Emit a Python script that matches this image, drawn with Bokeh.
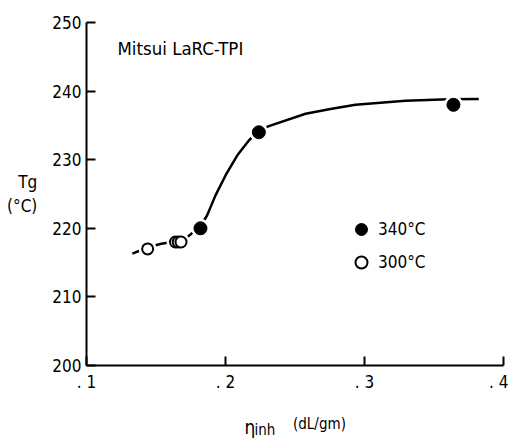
from bokeh.plotting import figure
from bokeh.models import (Label, Legend, LegendItem, FixedTicker, Range1d,
                          LinearAxis, Title)
from bokeh.embed import file_html
from bokeh.resources import INLINE

# Glass transition temperature vs. inherent viscosity, Mitsui LaRC-TPI
eta_340 = [0.182, 0.224, 0.364]
tg_340 = [220, 234, 238]

eta_300 = [0.144, 0.164, 0.166, 0.168]
tg_300 = [217, 218, 218, 218]

# hand-drawn trend curve, read along its path
curve_eta = [0.133, 0.144, 0.153, 0.164, 0.168, 0.1724, 0.1784, 0.182, 0.1868,
             0.1928, 0.200, 0.2084, 0.2168, 0.2245, 0.2312, 0.2576, 0.2755,
             0.2935, 0.3295, 0.3604, 0.3822]
curve_tg = [216.3, 217.2, 217.7, 218.1, 218.3, 218.7, 219.7, 220.3, 221.9,
            224.8, 227.7, 230.6, 232.8, 234.3, 234.9, 236.7, 237.4,
            238.0, 238.6, 238.8, 238.85]

x_ticks = [0.1, 0.2, 0.3, 0.4]
x_tick_labels = [". 1", ". 2", ". 3", ". 4"]
y_ticks = [200, 210, 220, 230, 240, 250]

FONT = "DejaVu Sans Condensed"

p = figure(width=508, height=440, output_backend="svg", toolbar_location=None,
           x_range=Range1d(0.1, 0.4), y_range=Range1d(200, 250),
           min_border_left=86, min_border_right=5, min_border_top=22,
           min_border_bottom=75)
p.outline_line_color = None
p.grid.grid_line_color = None
p.background_fill_color = "white"
p.border_fill_color = "white"

for ax in (p.xaxis[0], p.yaxis[0]):
    ax.axis_line_width = 2
    ax.axis_line_color = "black"
    ax.major_tick_line_width = 2
    ax.major_tick_in = 9
    ax.major_tick_out = 0
    ax.minor_tick_line_color = None
    ax.major_label_text_font = FONT
    ax.major_label_text_font_size = "17px"
    ax.major_label_text_color = "black"

p.xaxis.ticker = FixedTicker(ticks=x_ticks)
p.xaxis.major_label_overrides = {t: s for t, s in zip(x_ticks, x_tick_labels)}
p.xaxis.major_label_standoff = 6
p.yaxis.ticker = FixedTicker(ticks=y_ticks)
p.yaxis.major_label_standoff = 5

# y axis title, horizontal, two lines
p.yaxis.axis_label = "Tg\n(°C)"
p.yaxis.axis_label_orientation = "horizontal"
p.yaxis.axis_label_text_font = FONT
p.yaxis.axis_label_text_font_style = "normal"
p.yaxis.axis_label_text_font_size = "17px"
p.yaxis.axis_label_text_color = "black"
p.yaxis.axis_label_standoff = 12


def caption_axis(pos, text, size, standoff):
    """A bare axis below the plot that only carries one piece of the x title."""
    a = LinearAxis(ticker=FixedTicker(ticks=[pos]),
                   major_label_overrides={pos: text},
                   axis_line_color=None, major_tick_line_color=None,
                   minor_tick_line_color=None, major_tick_in=0, major_tick_out=0,
                   major_label_standoff=standoff, major_label_text_font=FONT,
                   major_label_text_font_size=size, major_label_text_color="black")
    p.add_layout(a, "below")


# x title: eta with subscript "inh", followed by raised units
caption_axis(0.2676, "(dL/gm)", "15px", 20)
caption_axis(0.2176, "η", "19px", -20)
p.add_layout(Title(text="inh", align="left", offset=168, vertical_align="top",
                   standoff=-40, text_font=FONT, text_font_size="15px",
                   text_font_style="normal", text_color="black"), "below")

# trend curve
p.line(curve_eta, curve_tg, line_color="black", line_width=2.5)

# white halos leave a small gap where the curve meets each marker
p.scatter(eta_300, tg_300, size=18, fill_color="white", line_color=None)
p.scatter(eta_340, tg_340, size=19, fill_color="white", line_color=None)

r300 = p.scatter(eta_300, tg_300, size=11, marker="circle",
                 fill_color="white", line_color="black", line_width=2)
r340 = p.scatter(eta_340, tg_340, size=13, marker="circle",
                 fill_color="black", line_color="black")

legend = Legend(items=[LegendItem(label="340°C", renderers=[r340]),
                       LegendItem(label="300°C", renderers=[r300])],
                location=(260, 88), orientation="vertical",
                glyph_width=30, glyph_height=30, spacing=3, padding=0, margin=0,
                label_standoff=2, label_text_font=FONT, label_text_font_size="17px",
                label_text_color="black",
                border_line_color=None, background_fill_alpha=0)
p.add_layout(legend, "center")

p.add_layout(Label(x=0.1223, y=246.2, text="Mitsui LaRC-TPI", text_font=FONT,
                   text_font_size="18.5px", text_color="black",
                   text_baseline="middle", text_align="left"))

open("out.html", "w").write(file_html(p, INLINE))
